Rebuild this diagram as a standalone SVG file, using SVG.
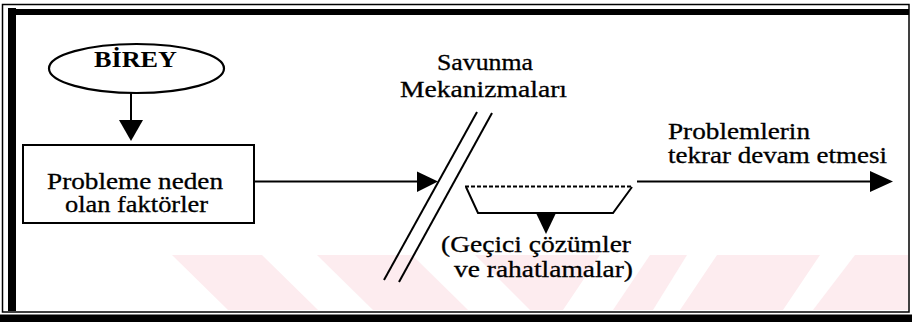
<svg xmlns="http://www.w3.org/2000/svg" width="912" height="322" viewBox="0 0 912 322">
  <style>
    svg { background: #fff; }
    .t { font-family: "Liberation Serif", "Times New Roman", serif; font-size: 23px; fill: #000; stroke: #000; stroke-width: 0.3; }
    .b { font-family: "Liberation Serif", "Times New Roman", serif; font-weight: bold; font-size: 24px; }
    .ln { fill: none; stroke: #000; stroke-width: 2; }
    .head { fill: #000; stroke: none; }
    .wm { fill: #fdecef; stroke: none; }
  </style>
  <rect width="912" height="322" fill="#fff"/>

  <!-- faint watermark -->
  <g id="watermark">
    <polygon class="wm" points="172,255 262,255 318,310 228,310"/>
    <polygon class="wm" points="317,255 412,255 468,310 373,310"/>
    <polygon class="wm" points="475,255 600,255 563,310 530,310"/>
    <polygon class="wm" points="650,255 687,255 653,310 613,310"/>
    <polygon class="wm" points="717,255 820,255 783,310 680,310"/>
    <polygon class="wm" points="855,255 908,255 908,310 813,310"/>
  </g>

  <!-- frame -->
  <g id="frame">
    <rect x="2.5" y="4.5" width="906.5" height="307.5" fill="none" stroke="#000" stroke-width="1.5"/>
    <rect x="8" y="8" width="8" height="303" fill="#000"/>
    <rect x="8" y="9" width="901" height="6" fill="#000"/>
    <rect x="0" y="314.5" width="912" height="7.5" fill="#000"/>
  </g>

  <!-- connectors -->
  <g id="connectors">
    <line class="ln" x1="131" y1="93" x2="131" y2="121" stroke-width="3"/>
    <polygon class="head" points="119,120 143,120 131,141"/>
    <line class="ln" x1="254" y1="181.5" x2="420" y2="181.5"/>
    <polygon class="head" points="417,171.5 417,192 438,181.5"/>
    <line class="ln" x1="637" y1="181.5" x2="872" y2="181.5"/>
    <polygon class="head" points="870,171 870,192 893,181.5"/>
    <polygon class="head" points="536,213 556,213 546,234"/>
  </g>

  <g font-family="Liberation Serif, Times New Roman, serif" font-size="23" fill="#000">
  <g id="birey">
    <ellipse cx="136.5" cy="68.5" rx="87.5" ry="24.5" fill="#fff" stroke="#000" stroke-width="2.2"/>
    <text class="b" x="135.5" y="66.5" font-weight="bold" text-anchor="middle" textLength="83" lengthAdjust="spacingAndGlyphs">BİREY</text>
  </g>

  <g id="faktorler">
    <rect x="23" y="145" width="231" height="78" fill="#fff" stroke="#000" stroke-width="2"/>
    <text class="t" x="135" y="189" text-anchor="middle" textLength="176" lengthAdjust="spacingAndGlyphs">Probleme neden</text>
    <text class="t" x="136.5" y="212" text-anchor="middle" textLength="143" lengthAdjust="spacingAndGlyphs">olan faktörler</text>
  </g>

  <g id="savunma">
    <line class="ln" x1="477" y1="112" x2="384" y2="280" stroke-width="3"/>
    <line class="ln" x1="492" y1="113" x2="399" y2="282" stroke-width="3"/>
    <text class="t" x="485" y="70" text-anchor="middle" textLength="96" lengthAdjust="spacingAndGlyphs">Savunma</text>
    <text class="t" x="483.5" y="97" text-anchor="middle" textLength="167" lengthAdjust="spacingAndGlyphs">Mekanizmaları</text>
  </g>

  <g id="gecici">
    <line x1="465" y1="186.5" x2="633" y2="186.5" stroke="#000" stroke-width="2" stroke-dasharray="4,2"/>
    <path class="ln" d="M466,187 L478,213 L613,213 L632,187"/>
    <text class="t" x="441" y="252" textLength="190" lengthAdjust="spacingAndGlyphs">(Geçici çözümler</text>
    <text class="t" x="454" y="277" textLength="179" lengthAdjust="spacingAndGlyphs">ve rahatlamalar)</text>
  </g>

  <g id="devam">
    <text class="t" x="668" y="139" textLength="142" lengthAdjust="spacingAndGlyphs">Problemlerin</text>
    <text class="t" x="668" y="163" textLength="219" lengthAdjust="spacingAndGlyphs">tekrar devam etmesi</text>
  </g>
  </g>
</svg>
